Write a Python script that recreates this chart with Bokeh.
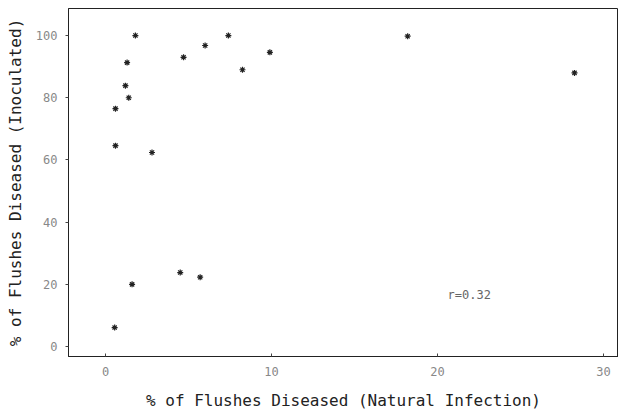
from bokeh.plotting import figure
from bokeh.models import ColumnDataSource, Label, FixedTicker
from bokeh.embed import file_html
from bokeh.resources import INLINE

natural = [0.55, 1.6, 4.5, 5.7, 0.6, 2.8, 0.6, 1.4, 1.2, 1.3, 1.8, 4.7, 6.0, 7.4, 8.25, 9.9, 18.2, 28.25]
inoculated = [6.1, 20.0, 23.8, 22.3, 64.6, 62.4, 76.5, 80.0, 83.9, 91.3, 100.0, 93.0, 96.8, 100.0, 89.0, 94.6, 99.8, 88.0]
x_ticks = [0, 10, 20, 30]
y_ticks = [0, 20, 40, 60, 80, 100]
x_title = "% of Flushes Diseased (Natural Infection)"
y_title = "% of Flushes Diseased (Inoculated)"
r_text = "r=0.32"

src = ColumnDataSource(data=dict(x=natural, y=inoculated))

p = figure(width=618, height=414, output_backend="svg", toolbar_location=None,
           x_range=(-2.23, 30.9), y_range=(-3.2, 108.7),
           min_border_left=68, min_border_right=0, min_border_top=8, min_border_bottom=58)
p.grid.visible = False
p.background_fill_color = "white"
p.border_fill_color = "white"
p.outline_line_color = "#222222"
p.outline_line_width = 1

p.scatter("x", "y", source=src, marker="asterisk", size=6, line_color="#222222", line_width=1.2)

mono = "DejaVu Sans Mono"
p.xaxis.ticker = FixedTicker(ticks=x_ticks)
p.yaxis.ticker = FixedTicker(ticks=y_ticks)
p.xaxis.axis_label = x_title
p.yaxis.axis_label = y_title
for ax in (p.xaxis[0], p.yaxis[0]):
    ax.axis_line_color = "#222222"
    ax.major_tick_line_color = "#444444"
    ax.minor_tick_line_color = None
    ax.major_label_text_font = mono
    ax.major_label_text_font_size = "12px"
    ax.major_label_text_color = "#888888"
    ax.axis_label_text_font = mono
    ax.axis_label_text_font_size = "16px"
    ax.axis_label_text_font_style = "normal"
    ax.axis_label_text_color = "#222222"

p.xaxis.major_tick_out = 0
p.xaxis.major_tick_in = 3
p.yaxis.major_tick_out = 3
p.yaxis.major_tick_in = 0
p.xaxis.major_label_standoff = 10
p.yaxis.major_label_standoff = 8
p.xaxis.axis_label_standoff = 12
p.yaxis.axis_label_standoff = 8

p.add_layout(Label(x=20.6, y=16.6, text=r_text, text_font=mono, text_font_size="12px",
                   text_color="#666666", text_baseline="middle", text_align="left"))

open("out.html", "w").write(file_html(p, INLINE))
